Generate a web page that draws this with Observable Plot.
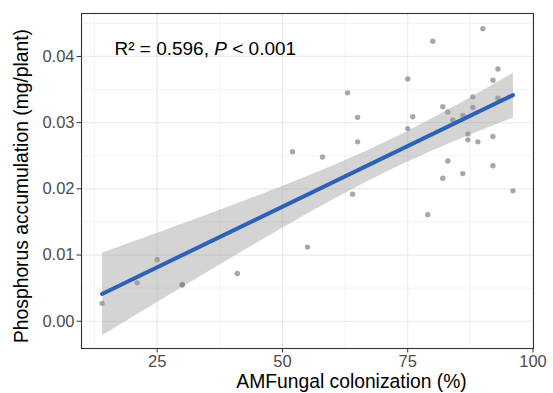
<!DOCTYPE html>
<html>
<head>
<meta charset="utf-8">
<script src="https://cdn.jsdelivr.net/npm/d3@7"></script>
<script src="https://cdn.jsdelivr.net/npm/@observablehq/plot@0.6"></script>
<style>
  html, body { margin: 0; padding: 0; background: #fff; }
  #chart svg { font-family: "Liberation Sans", Arial, sans-serif; background: #fff; }
</style>
</head>
<body>
<div id="chart"></div>
<script>
// ---- data ----
const colonization = [14, 21, 25, 30, 30, 41, 52, 55, 58, 63, 64, 65, 65, 75, 75, 76, 79, 80, 82, 82,
  83, 83, 84, 86, 86, 87, 87, 88, 88, 89, 90, 92, 92, 92, 93, 93, 96];
const phosphorus = [0.0027, 0.0058, 0.0093, 0.0055, 0.0055, 0.0072, 0.0256, 0.0112, 0.0248, 0.0345,
  0.0192, 0.0308, 0.0271, 0.0366, 0.0291, 0.0309, 0.0161, 0.0423, 0.0324, 0.0216,
  0.0316, 0.0242, 0.0304, 0.0311, 0.0223, 0.0283, 0.0274, 0.0339, 0.0323, 0.0271,
  0.0442, 0.0364, 0.0279, 0.0235, 0.0381, 0.0337, 0.0197];
const xTicks = [25, 50, 75, 100];
const xMinor = [12.5, 37.5, 62.5, 87.5];
const yTicks = [0, 0.01, 0.02, 0.03, 0.04];
const yMinor = [0.005, 0.015, 0.025, 0.035, 0.045];
const xTitle = "AMFungal colonization (%)";
const yTitle = "Phosphorus accumulation (mg/plant)";
const annotText = "R² = 0.596, P < 0.001";
const annotX = [34.6];
const annotY = [0.0411];

const points = colonization.map((x, i) => ({x, y: phosphorus[i]}));
const annot = [{x: annotX[0], y: annotY[0], label: annotText}];

const chart = Plot.plot({
  width: 553,
  height: 393,
  marginLeft: 81,
  marginRight: 20,
  marginTop: 13,
  marginBottom: 45,
  style: {fontFamily: '"Liberation Sans", Arial, sans-serif', background: "#fff"},
  x: {domain: [9.9, 100.1]},
  y: {domain: [-0.00412, 0.04649]},
  marks: [
    Plot.gridX(xMinor, {stroke: "#ebebeb", strokeOpacity: 1, strokeWidth: 0.6}),
    Plot.gridY(yMinor, {stroke: "#ebebeb", strokeOpacity: 1, strokeWidth: 0.6}),
    Plot.gridX(xTicks, {stroke: "#ebebeb", strokeOpacity: 1, strokeWidth: 1.2}),
    Plot.gridY(yTicks, {stroke: "#ebebeb", strokeOpacity: 1, strokeWidth: 1.2}),
    Plot.dot(points, {x: "x", y: "y", r: 2.7, fill: "#7a7a7a", fillOpacity: 0.65, stroke: null}),
    Plot.linearRegressionY(points, {x: "x", y: "y", ci: 0.95, stroke: "#2c62b5", strokeWidth: 4,
      fill: "#999999", fillOpacity: 0.42}),
    Plot.frame({stroke: "#333333", strokeWidth: 1.1}),
    Plot.axisX({ticks: xTicks, tickSize: 4.5, tickPadding: 2, fontSize: 16.5, stroke: "#333333",
      fill: "#4d4d4d", label: null}),
    Plot.axisY({ticks: yTicks, tickSize: 4.5, tickPadding: 2.5, fontSize: 16.5, stroke: "#333333",
      fill: "#4d4d4d", tickFormat: d3.format(".2f"), label: null}),
    Plot.text(annot, {x: "x", y: "y", text: "label", fontSize: 19, fill: "#000", textAnchor: "middle"}),
    Plot.text([xTitle], {frameAnchor: "bottom", text: d => d, fontSize: 19.3, fill: "#000",
      lineAnchor: "top", textAnchor: "middle", dx: 44, dy: 25.5}),
    Plot.text([yTitle], {frameAnchor: "left", text: d => d, fontSize: 19.3, fill: "#000",
      rotate: -90, lineAnchor: "top", textAnchor: "middle", dx: -67.5, dy: 5})
  ]
});

// italicize the "P" in the annotation
chart.querySelectorAll("text").forEach(t => {
  if (t.textContent === annotText) {
    const idx = annotText.indexOf("P");
    const parts = [annotText.slice(0, idx), "P", annotText.slice(idx + 1)];
    t.textContent = "";
    parts.forEach((p, i) => {
      const ts = document.createElementNS("http://www.w3.org/2000/svg", "tspan");
      ts.textContent = p;
      if (i === 1) ts.setAttribute("font-style", "italic");
      t.appendChild(ts);
    });
  }
});

document.getElementById("chart").appendChild(chart);
</script>
</body>
</html>
